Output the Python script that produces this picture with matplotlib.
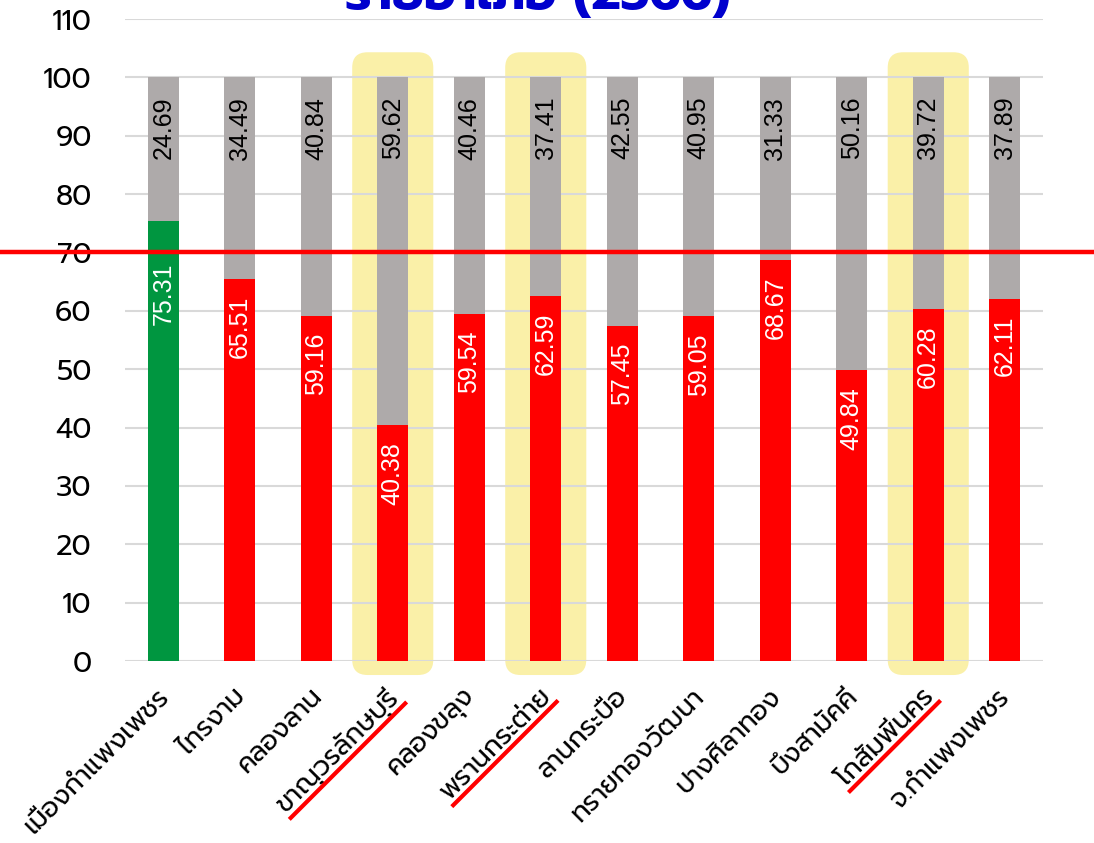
import numpy as np
import matplotlib
matplotlib.use("Agg")
import matplotlib.pyplot as plt
from matplotlib.patches import FancyBboxPatch
from matplotlib.lines import Line2D
from matplotlib.transforms import blended_transform_factory, offset_copy

# data
districts = ["เมืองกำแพงเพชร", "ไทรงาม", "คลองลาน", "ขาณุวรลักษบุรี", "คลองขลุง",
             "พรานกระต่าย", "ลานกระบือ", "ทรายทองวัฒนา", "ปางศิลาทอง", "บึงสามัคคี",
             "โกสัมพีนคร", "จ.กำแพงเพชร"]
passed = [75.31, 65.51, 59.16, 40.38, 59.54, 62.59, 57.45, 59.05, 68.67, 49.84, 60.28, 62.11]
failed = [24.69, 34.49, 40.84, 59.62, 40.46, 37.41, 42.55, 40.95, 31.33, 50.16, 39.72, 37.89]
target = 70
highlight = [3, 5, 10]
title = "รายอำเภอ (2566)"

thai = "Prompt"
num_font = "Liberation Sans"
red = "#FF0000"
green = "#009640"
gray = "#AEAAAA"
yellow = "#FAF0A8"

fig = plt.figure(figsize=(10.94, 8.43), dpi=100)
ax = fig.add_axes([125 / 1094, 182 / 843, 918 / 1094, 642 / 843])

x = np.arange(len(districts))
ax.set_xlim(-0.5, len(districts) - 0.5)
ax.set_ylim(0, 110)

colors = [green if v >= target else red for v in passed]
ax.bar(x, passed, width=0.4, color=colors, zorder=2)
ax.bar(x, failed, width=0.4, bottom=passed, color=gray, zorder=2)

# yellow rounded boxes behind highlighted districts
fig.canvas.draw()
bb = ax.get_window_extent()
aspect = (bb.width / 12) / (bb.height / 110)
for i in highlight:
    box = FancyBboxPatch((i - 0.53, -2.4), 1.06, 106.7,
                         boxstyle="round,pad=0,rounding_size=0.2",
                         mutation_aspect=aspect, fc=yellow, ec="none",
                         zorder=0.3, clip_on=False)
    ax.add_patch(box)

# value labels (keep the ones above target clear of the red line)
for i in x:
    if passed[i] > target:
        y0, off = target, -7
    else:
        y0, off = passed[i], -12
    ax.annotate(f"{passed[i]:.2f}", (i, y0), xytext=(0, off), textcoords="offset points",
                ha="center", va="top", rotation=90, color="white", fontsize=18, family=num_font,
                zorder=4)
    ax.annotate(f"{failed[i]:.2f}", (i, 100), xytext=(0, -14), textcoords="offset points",
                ha="center", va="top", rotation=90, color="black", fontsize=18, family=num_font,
                zorder=4)

# target line across the whole figure
tr = blended_transform_factory(fig.transFigure, ax.transData)
ax.plot([0, 1], [target, target], transform=tr, color=red, lw=3.2, clip_on=False, zorder=5)

ax.set_yticks(range(0, 111, 10))
ax.yaxis.grid(True, color="#D9D9D9", lw=1.5)
ax.set_axisbelow(True)
for s in ax.spines.values():
    s.set_visible(False)
ax.tick_params(axis="y", length=0, pad=24, labelsize=20.5)
for t in ax.get_yticklabels():
    t.set_family(thai)
ax.set_xticks(x)
ax.tick_params(axis="x", length=0, labelbottom=False)

# category names, rotated
lab_tr = offset_copy(blended_transform_factory(ax.transData, ax.transAxes), fig=fig,
                     x=2, y=-32, units="dots")
labs = []
for i, name in enumerate(districts):
    labs.append(ax.text(i, 0, name, transform=lab_tr, rotation=45, ha="right", va="center",
                        rotation_mode="anchor", fontsize=19, family=thai))

fig.text(538 / 1094, 1 - 9 / 843, title, ha="center", va="baseline", color="#0000CD",
         fontsize=36, fontweight="bold", family=thai)

# red underline under highlighted names
fig.canvas.draw()
r = fig.canvas.get_renderer()
inv = fig.transFigure.inverted()
for i in highlight:
    lab = labs[i]
    tmp = fig.text(0, 0, lab.get_text(), fontproperties=lab.get_fontproperties())
    h = tmp.get_window_extent(r).height
    tmp.remove()
    e = lab.get_window_extent(r)
    d = h / np.sqrt(2)
    p0 = inv.transform((e.x0 + d, e.y0))
    p1 = inv.transform((e.x1, e.y1 - d))
    fig.add_artist(Line2D([p0[0], p1[0]], [p0[1], p1[1]], transform=fig.transFigure,
                          color=red, lw=3))

fig.savefig("out.png", dpi=100)
